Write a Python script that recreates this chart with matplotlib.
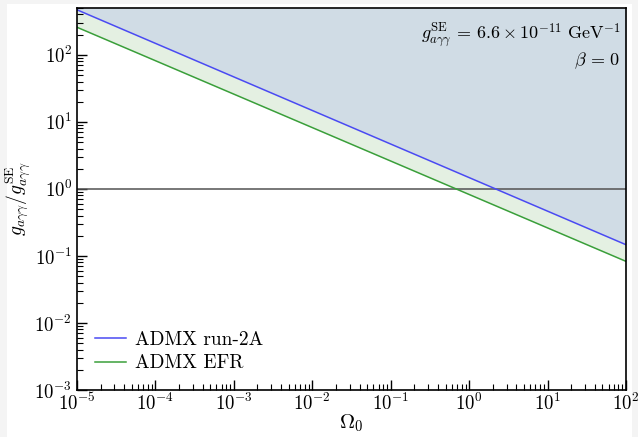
import numpy as np
import matplotlib
matplotlib.use('Agg')
import matplotlib.pyplot as plt
from matplotlib.patches import Rectangle
from matplotlib.ticker import LogLocator, NullFormatter

# -------------------- style --------------------
plt.rcParams['font.family'] = 'serif'
plt.rcParams['font.serif'] = ['cmr10']
plt.rcParams['mathtext.fontset'] = 'cm'
plt.rcParams['axes.unicode_minus'] = False
plt.rcParams['axes.formatter.use_mathtext'] = True

# -------------------- data --------------------
omega = [1e-5, 1e2]
g_run2a = [470.0, 0.147]     # ADMX run-2A
g_efr = [258.0, 0.083]       # ADMX EFR
g_ref = 1.0
y_top = 500.0

omega = np.array(omega)
g_run2a = np.array(g_run2a)
g_efr = np.array(g_efr)

# -------------------- figure --------------------
fig = plt.figure(figsize=(6.38, 4.37), dpi=100, facecolor='#f4f4f4')
fig.patches.append(Rectangle((7 / 638, 0), 625 / 638, 433 / 437,
                             transform=fig.transFigure, facecolor='white',
                             edgecolor='none', zorder=-10))
ax = fig.add_axes([77 / 638, 47 / 437, 549 / 638, 382 / 437])

ax.fill_between(omega, g_run2a, y_top, color='#d0dce5', lw=0, zorder=1)
ax.fill_between(omega, g_efr, g_run2a, color='#e4f0e2', lw=0, zorder=1)
ax.plot(omega, g_run2a, color='#4a4af2', lw=1.1, zorder=3, label='ADMX run-2A')
ax.plot(omega, g_efr, color='#3a9f3a', lw=1.1, zorder=3, label='ADMX EFR')
ax.axhline(g_ref, color='#555555', lw=1.4, alpha=0.8, zorder=2)

ax.set_xscale('log')
ax.set_yscale('log')
ax.set_xlim(1e-5, 1e2)
ax.set_ylim(1e-3, y_top)

ax.xaxis.set_major_locator(LogLocator(base=10, numticks=20))
ax.xaxis.set_minor_locator(LogLocator(base=10, subs=np.arange(2, 10), numticks=100))
ax.yaxis.set_major_locator(LogLocator(base=10, numticks=20))
ax.yaxis.set_minor_locator(LogLocator(base=10, subs=np.arange(2, 10), numticks=100))
ax.xaxis.set_minor_formatter(NullFormatter())
ax.yaxis.set_minor_formatter(NullFormatter())
ax.tick_params(which='both', direction='in', labelsize=13.5)
ax.tick_params(which='major', length=7, width=1.0)
ax.tick_params(which='minor', length=4, width=0.8)
ax.tick_params(axis='x', pad=2)

for s in ax.spines.values():
    s.set_linewidth(1.2)
    s.set_zorder(5)

ax.set_xlabel(r'$\Omega_0$', fontsize=15, labelpad=-1)
ax.set_ylabel(r'$g_{a\gamma\gamma}/g_{a\gamma\gamma}^{\rm SE}$', fontsize=14, labelpad=2)

ax.text(0.99, 0.965,
        r'$g_{a\gamma\gamma}^{\rm SE} \,=\, 6.6 \times 10^{-11}\ {\rm GeV}^{-1}$' + '\n' + r'$\beta \,=\, 0$',
        transform=ax.transAxes, ha='right', va='top', fontsize=13, linespacing=1.05)

leg = ax.legend(loc='lower left', frameon=False, fontsize=14,
                handlelength=1.6, handletextpad=0.5,
                borderaxespad=0.5, labelspacing=0.3)

fig.savefig('out.png', dpi=100, facecolor=fig.get_facecolor())
